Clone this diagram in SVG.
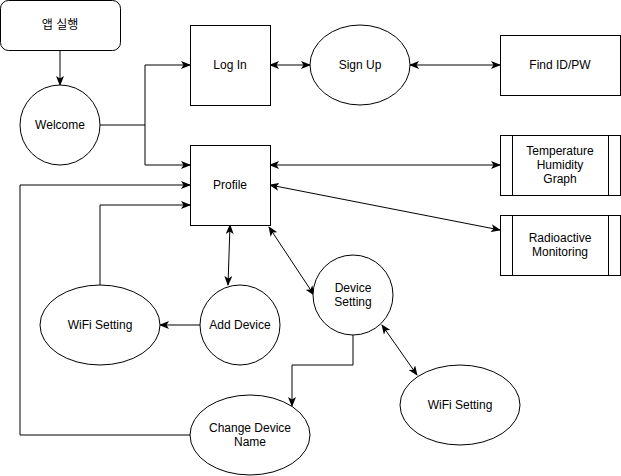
<svg xmlns="http://www.w3.org/2000/svg" width="621" height="476" viewBox="0 0 621 476">
  <style>
    .shape { fill: #ffffff; stroke: #000000; stroke-width: 1; }
    .edge { fill: none; stroke: #000000; stroke-width: 1; }
    .end { marker-end: url(#arrow); }
    .both { marker-start: url(#arrowStart); marker-end: url(#arrow); }
    text { font-family: "Liberation Sans", Arial, "Noto Sans CJK KR", sans-serif; font-size: 12px; fill: #000000; text-anchor: middle; dominant-baseline: central; }
  </style>
  <defs>
    <marker id="arrow" viewBox="0 0 10 8" refX="9" refY="4" markerWidth="10" markerHeight="8" markerUnits="userSpaceOnUse" orient="auto">
      <path d="M0,0 L10,4 L0,8 L2.5,4 Z" fill="#000000"/>
    </marker>
    <marker id="arrowStart" viewBox="0 0 10 8" refX="1" refY="4" markerWidth="10" markerHeight="8" markerUnits="userSpaceOnUse" orient="auto">
      <path d="M10,0 L0,4 L10,8 L7.5,4 Z" fill="#000000"/>
    </marker>
  </defs>

  <rect width="621" height="476" fill="#ffffff"/>

  <!-- connectors -->
  <g id="connectors">
    <path class="edge end" d="M60,50 V85"/>
    <path class="edge end" d="M100,125 H145 V65 H190"/>
    <path class="edge end" d="M145,125 V165 H190"/>
    <path class="edge both" d="M270,65 H310"/>
    <path class="edge both" d="M410,65 H500"/>
    <path class="edge both" d="M270,165 H500"/>
    <path class="edge both" d="M270,185 L500,230"/>
    <path class="edge end" d="M190,435 H20 V185 H190"/>
    <path class="edge end" d="M100,285 V205 H190"/>
    <path class="edge both" d="M230,225 L228,285"/>
    <path class="edge end" d="M200,325 H160"/>
    <path class="edge both" d="M269,227 L314,295"/>
    <path class="edge end" d="M353,335 V365 H292 V406"/>
    <path class="edge both" d="M382,325 L417,375"/>
  </g>

  <!-- nodes -->
  <g id="app-start">
    <rect class="shape" x="0.5" y="0.5" width="120" height="50" rx="8"/>
    <text x="60" y="25">앱 실행</text>
  </g>
  <g id="welcome">
    <circle class="shape" cx="60" cy="125" r="40"/>
    <text x="60" y="125">Welcome</text>
  </g>
  <g id="login">
    <rect class="shape" x="190.5" y="25.5" width="80" height="80"/>
    <text x="230" y="65">Log In</text>
  </g>
  <g id="signup">
    <ellipse class="shape" cx="360" cy="65" rx="50" ry="40"/>
    <text x="360" y="65">Sign Up</text>
  </g>
  <g id="find-id-pw">
    <rect class="shape" x="500.5" y="35.5" width="120" height="60"/>
    <text x="560" y="65">Find ID/PW</text>
  </g>
  <g id="profile">
    <rect class="shape" x="190.5" y="145.5" width="80" height="80"/>
    <text x="230" y="185">Profile</text>
  </g>
  <g id="temp-humidity-graph">
    <rect class="shape" x="500.5" y="135.5" width="120" height="60"/>
    <path class="edge" d="M512.5,135.5 V195.5 M608.5,135.5 V195.5"/>
    <text x="560" y="151">Temperature</text>
    <text x="560" y="165">Humidity</text>
    <text x="560" y="179">Graph</text>
  </g>
  <g id="radioactive-monitoring">
    <rect class="shape" x="500.5" y="215.5" width="120" height="60"/>
    <path class="edge" d="M512.5,215.5 V275.5 M608.5,215.5 V275.5"/>
    <text x="560" y="238">Radioactive</text>
    <text x="560" y="252">Monitoring</text>
  </g>
  <g id="wifi-setting-add">
    <ellipse class="shape" cx="100" cy="325" rx="60" ry="40"/>
    <text x="100" y="325">WiFi Setting</text>
  </g>
  <g id="add-device">
    <circle class="shape" cx="240" cy="325" r="40"/>
    <text x="240" y="325">Add Device</text>
  </g>
  <g id="device-setting">
    <circle class="shape" cx="353" cy="295" r="40"/>
    <text x="353" y="288">Device</text>
    <text x="353" y="302">Setting</text>
  </g>
  <g id="wifi-setting-device">
    <ellipse class="shape" cx="460" cy="405" rx="60" ry="40"/>
    <text x="460" y="405">WiFi Setting</text>
  </g>
  <g id="change-device-name">
    <ellipse class="shape" cx="250" cy="435" rx="60" ry="40"/>
    <text x="250" y="428">Change Device</text>
    <text x="250" y="442">Name</text>
  </g>
</svg>
